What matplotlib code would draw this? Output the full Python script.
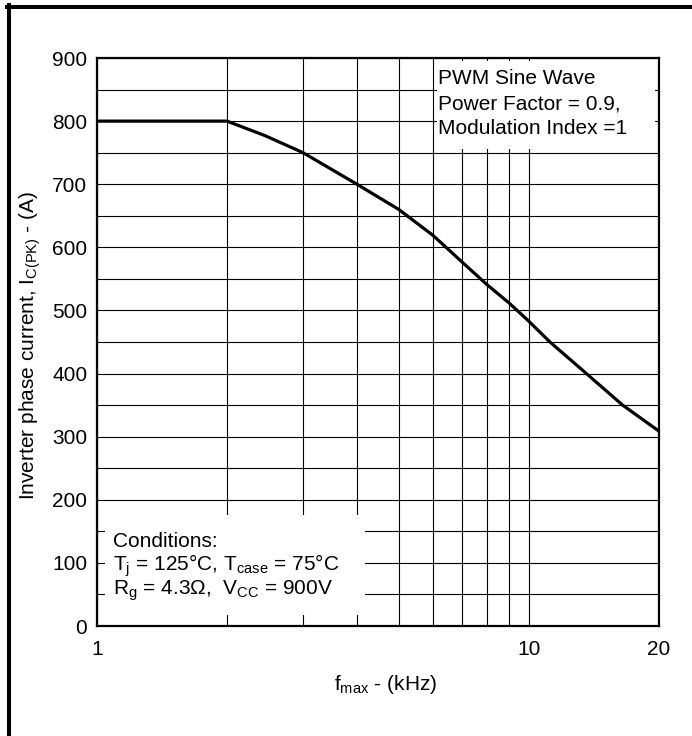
import numpy as np
import matplotlib
matplotlib.use("Agg")
import matplotlib.pyplot as plt
from matplotlib.patches import Rectangle
from matplotlib.lines import Line2D
from matplotlib.ticker import FixedLocator, NullFormatter

plt.rcParams['font.family'] = ['Liberation Sans', 'DejaVu Sans']
plt.rcParams['mathtext.fontset'] = 'custom'
plt.rcParams['mathtext.rm'] = 'Liberation Sans'
plt.rcParams['mathtext.it'] = 'Liberation Sans:italic'

# values
freq_khz = [1, 2, 2.45, 3, 4, 5, 6, 7, 8, 9, 10, 11.2, 13.6, 16.5, 20]
current_a = [800, 800, 777, 750, 700, 660, 619, 577, 541, 512, 483, 450, 400, 350, 309]

x_major = [1, 10, 20]
x_labels = ['1', '10', '20']
x_minor = [2, 3, 4, 5, 6, 7, 8, 9]
y_major = list(range(0, 901, 100))
y_minor = list(range(50, 900, 100))

note_lines = ['PWM Sine Wave', 'Power Factor = 0.9,', 'Modulation Index =1']
cond_lines = ['Conditions:',
              r'T$_\mathrm{j}$ = 125°C, T$_\mathrm{case}$ = 75°C',
              r'R$_\mathrm{g}$ = 4.3Ω,  V$_\mathrm{CC}$ = 900V']

fig = plt.figure(figsize=(6.92, 7.36), dpi=100)
ax = fig.add_axes([97/692, 1-626/736, 561.7/692, 568/736])

ax.plot(freq_khz, current_a, color='black', lw=2.3, zorder=2,
        solid_joinstyle='round', solid_capstyle='butt')

ax.set_xscale('log')
ax.set_xlim(1, 20)
ax.set_ylim(0, 900)
ax.xaxis.set_major_locator(FixedLocator(x_major))
ax.xaxis.set_minor_locator(FixedLocator(x_minor))
ax.xaxis.set_minor_formatter(NullFormatter())
ax.set_xticklabels(x_labels)
ax.yaxis.set_major_locator(FixedLocator(y_major))
ax.yaxis.set_minor_locator(FixedLocator(y_minor))

ax.set_axisbelow(True)
ax.grid(which='both', color='black', lw=0.8)
ax.tick_params(which='both', length=0, labelsize=15)
ax.tick_params(axis='y', pad=7)
ax.tick_params(axis='x', pad=10)
for s in ax.spines.values():
    s.set_linewidth(1.6)

# white boxes behind the notes
ax.add_patch(Rectangle((0.6048, 0.8398), 0.3886, 0.1549, transform=ax.transAxes,
                       facecolor='white', edgecolor='none', zorder=1))
ax.add_patch(Rectangle((0.0142, 0.0194), 0.4629, 0.176, transform=ax.transAxes,
                       facecolor='white', edgecolor='none', zorder=1))

for txt, yy in zip(note_lines, [0.9542, 0.9102, 0.8662]):
    ax.text(0.6066, yy, txt, transform=ax.transAxes, fontsize=15,
            va='baseline', ha='left', zorder=3)
for txt, yy in zip(cond_lines, [0.139, 0.0968, 0.0546]):
    ax.text(0.028, yy, txt, transform=ax.transAxes, fontsize=15,
            va='baseline', ha='left', zorder=3)

fig.text(30/692, 1-345/736, r'Inverter phase current, I$_\mathrm{C(PK)}$ - (A)',
         rotation=90, ha='center', va='center', fontsize=15)
fig.text(386/692, 1-690/736, r'f$_\mathrm{max}$ - (kHz)',
         ha='center', va='baseline', fontsize=15)

# outer frame (top and left edges only)
fig.add_artist(Line2D([6.7/692, 1], [1-6.8/736, 1-6.8/736], color='black',
                      lw=2.9, transform=fig.transFigure))
fig.add_artist(Line2D([8.7/692, 8.7/692], [0, 1-5/736], color='black',
                      lw=2.9, transform=fig.transFigure))

fig.savefig('out.png', dpi=100, facecolor='white')
